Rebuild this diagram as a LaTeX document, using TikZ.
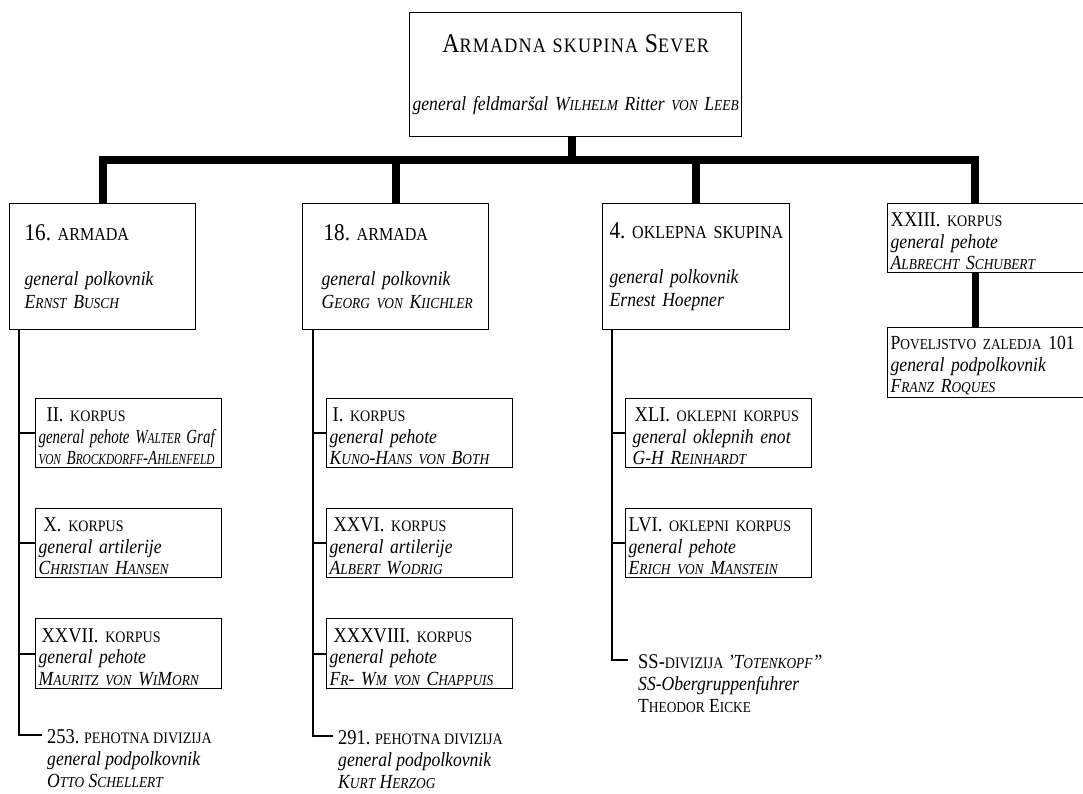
\documentclass[tikz,border=0pt]{standalone}
\usepackage{fontspec}
\setmainfont{Liberation Serif}[FakeStretch=0.88]
\usepackage{graphicx}
\frenchspacing
\makeatletter
\newcommand\sm[1]{{\fontsize{\fpeval{0.76*\f@size}}{\f@baselineskip}\selectfont\MakeUppercase{#1}}}
\makeatother
\newcommand\unit[3]{{\upshape\fontsize{#1}{21}\selectfont#2 \sm{#3}}}
\newcommand\squeeze[1]{\resizebox{176pt}{\height}{#1}}
\tikzset{
  topbox/.style={draw, line width=1.3pt, anchor=north west, inner xsep=2pt, text width=328pt,
    minimum height=124pt, align=center, font=\fontsize{20}{22}\selectfont\itshape},
  armybox/.style={draw, line width=1.3pt, anchor=north west, inner xsep=15pt, text width=156pt,
    minimum height=126pt, align=left, font=\fontsize{20}{23}\selectfont\itshape},
  corpsbox/.style={draw, line width=1.3pt, anchor=north west, inner xsep=3pt, inner ysep=0pt,
    text width=180pt, minimum height=69pt, align=left, font=\fontsize{20}{21.5}\selectfont\itshape,
    execute at begin node=\rule{0pt}{20pt}},
  divtext/.style={anchor=north west, inner sep=0pt, align=left, font=\fontsize{20}{22}\selectfont\itshape},
  bus/.style={line width=8pt},
  branch/.style={line width=2.2pt}
}
\begin{document}
\begin{tikzpicture}[x=1pt,y=-1pt]
\useasboundingbox (0,0) rectangle (1083,794);

% poveljstvo skupine
\node[topbox] (ag) at (409,12) {{\upshape\fontsize{27}{22}\selectfont\addfontfeature{LetterSpace=6}A\sm{rmadna skupina} S\sm{ever}}\\[36pt]
  general feldmaršal W\sm{ilhelm} Ritter \sm{von} L\sm{eeb}};

% armade
\node[armybox] (a16) at (9,203) {\unit{24}{16.}{armada}\\[22pt] general polkovnik\\ E\sm{rnst} B\sm{usch}};
\node[armybox] (a18) at (302,203) {\unit{24}{\hspace*{6pt}18.}{armada}\\[22pt] \hspace*{4pt}general polkovnik\\ \hspace*{4pt}G\sm{eorg von} K\sm{iichler}};
\node[armybox, inner xsep=4pt, text width=179pt] (ok4) at (602,203) {\unit{24}{\hspace*{3pt}4.}{oklepna skupina}\\[22pt] \hspace*{3pt}general polkovnik\\ \hspace*{3pt}Ernest Hoepner};
\node[corpsbox, text width=194pt] (k23) at (887,203) {\unit{21}{XXIII.}{korpus}\\ general pehote\\ A\sm{lbrecht} S\sm{chubert}};
\node[corpsbox, text width=194pt, minimum height=70pt] (pz) at (887,327) {{\upshape P\sm{oveljstvo zaledja} 101}\\ general podpolkovnik\\ F\sm{ranz} R\sm{oques}};

% korpusi 16. armade
\node[corpsbox] (k2) at (35,398) {\unit{21}{\hspace*{8pt}II.}{korpus}\\ \squeeze{general pehote W\sm{alter} Graf}\\ \squeeze{\sm{von} B\sm{rockdorff}-A\sm{hlenfeld}}};
\node[corpsbox] (k10) at (35,508) {\unit{21}{\hspace*{5pt}X.}{korpus}\\ general artilerije\\ C\sm{hristian} H\sm{ansen}};
\node[corpsbox, minimum height=70pt] (k27) at (35,618) {\unit{21}{\hspace*{3pt}XXVII.}{korpus}\\ general pehote\\ M\sm{auritz von} W\sm{i}M\sm{orn}};
\node[divtext] (d253) at (47,729) {\unit{21}{253.}{pehotna divizija}\\ general podpolkovnik\\ O\sm{tto} S\sm{chellert}};

% korpusi 18. armade
\node[corpsbox] (k1) at (326,398) {\unit{21}{\hspace*{3pt}I.}{korpus}\\ general pehote\\ K\sm{uno}-H\sm{ans von} B\sm{oth}};
\node[corpsbox] (k26) at (326,508) {\unit{21}{\hspace*{4pt}XXVI.}{korpus}\\ general artilerije\\ A\sm{lbert} W\sm{odrig}};
\node[corpsbox, minimum height=70pt] (k38) at (326,618) {\unit{21}{\hspace*{4pt}XXXVIII.}{korpus}\\ general pehote\\ F\sm{r}- W\sm{m von} C\sm{happuis}};
\node[divtext] (d291) at (338,730) {\unit{21}{291.}{pehotna divizija}\\ general podpolkovnik\\ K\sm{urt} H\sm{erzog}};

% korpusi 4. oklepne skupine
\node[corpsbox] (k41) at (625,398) {\unit{21}{\hspace*{6pt}XLI.}{oklepni korpus}\\ \hspace*{4pt}general oklepnih enot\\ \hspace*{4pt}G-H R\sm{einhardt}};
\node[corpsbox] (k56) at (625,508) {\unit{21}{LVI.}{oklepni korpus}\\ general pehote\\ E\sm{rich von} M\sm{anstein}};
\node[divtext] (dss) at (638,654) {{\upshape\fontsize{21}{22}\selectfont SS-\sm{divizija}} 'T\sm{otenkopf}"\\ SS-Obergruppenfuhrer\\ {\upshape T\sm{heodor} E\sm{icke}}};

% povezave
\coordinate (bus) at (572,160);
\coordinate (c23) at (975,0);
\draw[bus] (ag.south -| bus) -- (bus);
\draw[bus] (a16.north) |- (bus) -| (c23 |- k23.north);
\draw[bus] (a18.north) -- (a18.north |- bus);
\draw[bus] (ok4.north) -- (ok4.north |- bus);
\draw[line width=7pt] (c23 |- k23.south) -- (c23 |- pz.north);

\coordinate (t16) at ([xshift=10pt]a16.south west);
\coordinate (t18) at ([xshift=11pt]a18.south west);
\coordinate (t4) at ([xshift=10pt]ok4.south west);
\draw[branch] (t16) |- ([xshift=-5pt,yshift=-6pt]d253.north west);
\draw[branch] (t18) |- ([xshift=-5pt,yshift=-6pt]d291.north west);
\draw[branch] (t4) |- ([xshift=-10pt,yshift=-6pt]dss.north west);
\foreach \k in {k2,k10,k27} \draw[branch] (t16 |- \k.west) -- (\k.west);
\foreach \k in {k1,k26,k38} \draw[branch] (t18 |- \k.west) -- (\k.west);
\foreach \k in {k41,k56} \draw[branch] (t4 |- \k.west) -- (\k.west);
\end{tikzpicture}
\end{document}
